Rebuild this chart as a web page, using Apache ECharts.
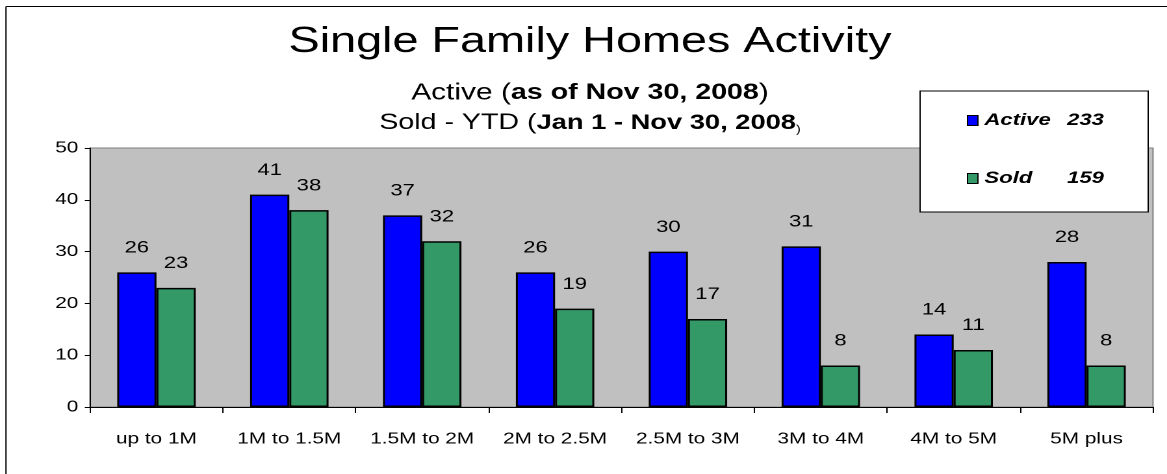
<!DOCTYPE html>
<html>
<head>
<meta charset="utf-8">
<script src="https://cdn.jsdelivr.net/npm/echarts@6/dist/echarts.min.js"></script>
<style>
html,body{margin:0;padding:0;background:#fff;overflow:hidden;}
#wrap{width:1167px;height:474px;overflow:hidden;background:#fff;}
#c{width:898px;height:474px;transform:scaleX(1.29955);transform-origin:0 0;}
</style>
</head>
<body>
<div id="wrap"><div id="c"></div></div>
<script>
const categories = ['up to 1M','1M to 1.5M','1.5M to 2M','2M to 2.5M','2.5M to 3M','3M to 4M','4M to 5M','5M plus'];
const activeValues = [26,41,37,26,30,31,14,28];
const soldValues = [23,38,32,19,17,8,11,8];
const seriesNames = ['Active','Sold'];
const legendTotals = [233,159];
const yTicks = {min:0, max:50, interval:10};

const FONT = "'Liberation Sans', Arial, sans-serif";
const chart = echarts.init(document.getElementById('c'), null, {renderer:'canvas', devicePixelRatio:2, width:898, height:474});

const labelCfg = {show:true, position:'top', distance:16, color:'#000', fontSize:17, fontFamily:FONT};

chart.setOption({
  animation:false,
  backgroundColor:'#fff',
  textStyle:{fontFamily:FONT},
  legend:{
    orient:'vertical', left:708, top:91,
    padding:[21,34,25,36], itemGap:41,
    backgroundColor:'#fff', borderColor:'#000', borderWidth:1,
    itemWidth:8, itemHeight:10, icon:'rect',
    itemStyle:{borderColor:'#000', borderWidth:1},
    data:seriesNames,
    formatter:function(name){
      const i = seriesNames.indexOf(name);
      return '{n|' + name + '}{v|' + legendTotals[i] + '}';
    },
    textStyle:{
      rich:{
        n:{width:65, fontSize:17, fontWeight:'bold', fontStyle:'italic', color:'#000', fontFamily:FONT, lineHeight:14},
        v:{width:27, fontSize:17, fontWeight:'bold', fontStyle:'italic', color:'#000', fontFamily:FONT, lineHeight:14, align:'right'}
      }
    }
  },
  grid:{left:69.25, right:10.77, top:148, bottom:67, show:true, backgroundColor:'#C0C0C0', borderColor:'#808080', borderWidth:1},
  xAxis:{
    type:'category', data:categories,
    axisLine:{lineStyle:{color:'#000', width:1}},
    axisTick:{show:true, interval:0, length:6, lineStyle:{color:'#000'}},
    axisLabel:{interval:0, color:'#000', fontSize:16, margin:24, fontFamily:FONT}
  },
  yAxis:{
    type:'value', min:yTicks.min, max:yTicks.max, interval:yTicks.interval,
    axisLine:{show:true, lineStyle:{color:'#000', width:1}},
    axisTick:{show:true, length:4, lineStyle:{color:'#000'}},
    splitLine:{show:false},
    axisLabel:{color:'#000', fontSize:16, margin:9, fontFamily:FONT}
  },
  graphic:[
    {type:'line', silent:true, shape:{x1:4.6, y1:6.5, x2:898, y2:6.5}, style:{stroke:'#000', lineWidth:1}},
    {type:'line', silent:true, shape:{x1:4.6, y1:6.5, x2:4.6, y2:474}, style:{stroke:'#000', lineWidth:1}},
    {type:'text', x:454, y:42, style:{text:'Single Family Homes Activity', fontSize:36, fontFamily:FONT, fill:'#000', align:'center', verticalAlign:'middle'}},
    {type:'text', x:454, y:93, style:{
      text:'{r|Active (}{b|as of Nov 30, 2008}{r|)}',
      align:'center', verticalAlign:'middle', fontSize:23, fontFamily:FONT, fill:'#000',
      rich:{
        r:{fontSize:23, fontWeight:'normal', fill:'#000', fontFamily:FONT, lineHeight:24},
        b:{fontSize:22, fontWeight:'bold', fill:'#000', fontFamily:FONT, lineHeight:24}
      }}},
    {type:'text', x:454, y:123, style:{
      text:'{r|Sold - YTD (}{b|Jan 1 - Nov 30, 2008}{s|)}',
      align:'center', verticalAlign:'middle', fontSize:22, fontFamily:FONT, fill:'#000',
      rich:{
        r:{fontSize:22, fontWeight:'normal', fill:'#000', fontFamily:FONT, lineHeight:24},
        b:{fontSize:21, fontWeight:'bold', fill:'#000', fontFamily:FONT, lineHeight:24},
        s:{fontSize:11, fontWeight:'normal', fill:'#000', fontFamily:FONT, lineHeight:14, verticalAlign:'bottom'}
      }}}
  ],
  series:[
    {name:seriesNames[0], type:'bar', data:activeValues, barGap:'0%', barCategoryGap:'41%',
     itemStyle:{color:'#0000FF', borderColor:'#000', borderWidth:1.5}, label:labelCfg},
    {name:seriesNames[1], type:'bar', data:soldValues,
     itemStyle:{color:'#339966', borderColor:'#000', borderWidth:1.5}, label:labelCfg}
  ]
});
</script>
</body>
</html>
